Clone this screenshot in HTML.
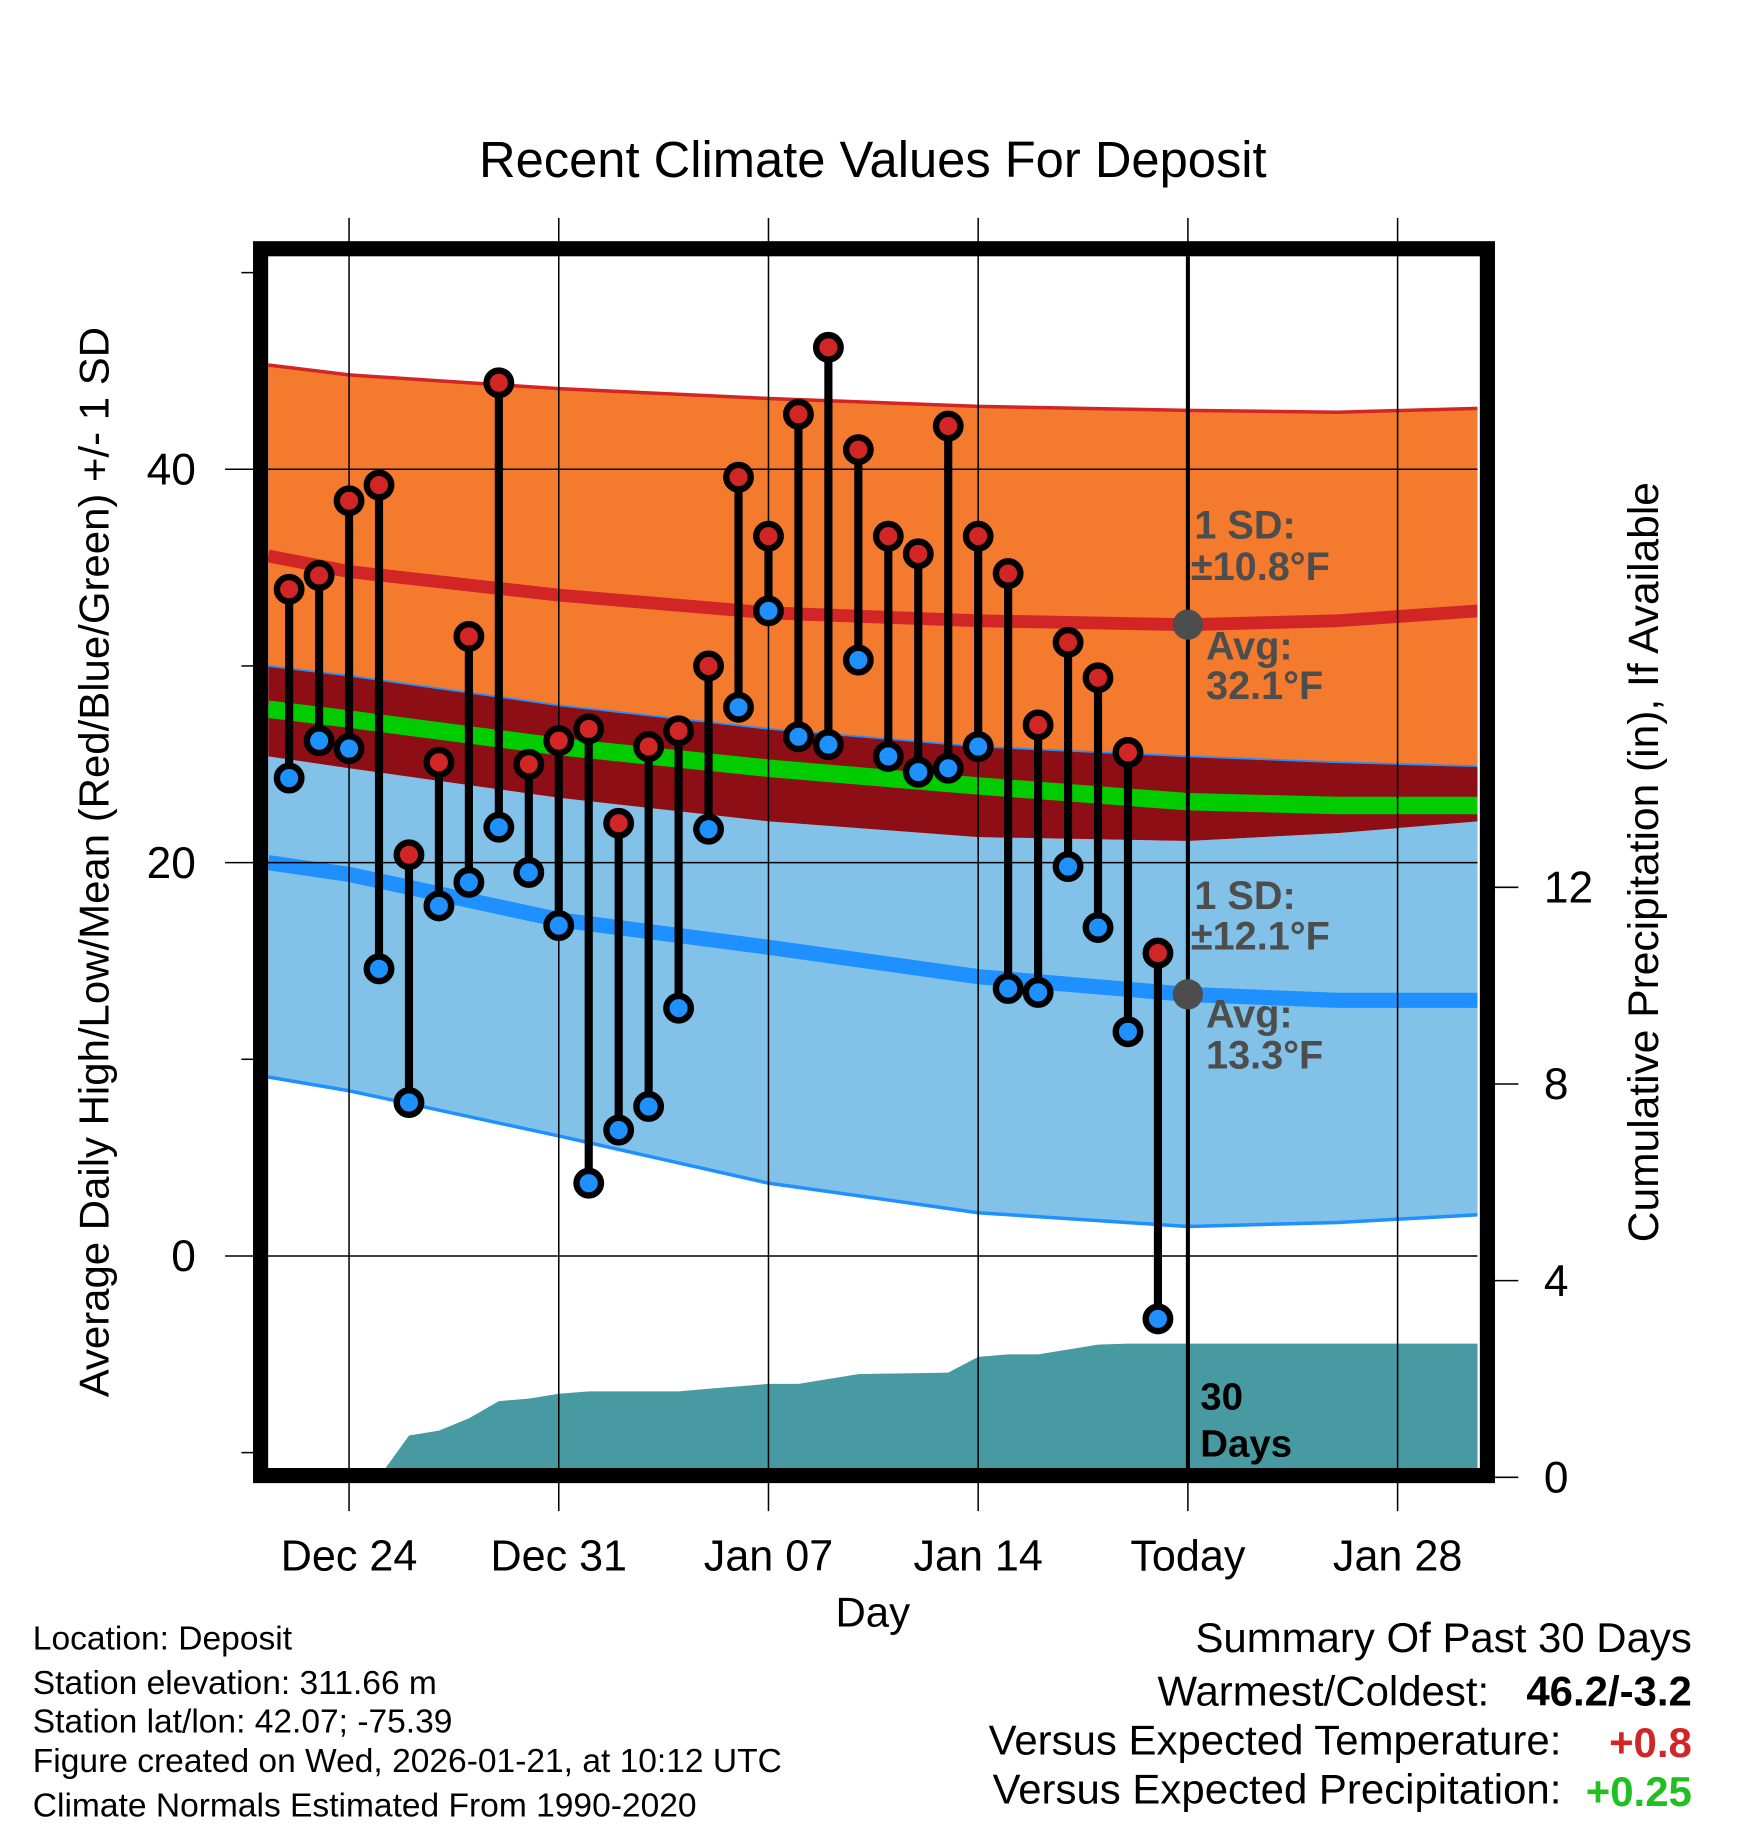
<!DOCTYPE html>
<html><head><meta charset="utf-8"><style>
html,body{margin:0;padding:0;background:#fff;}
svg{display:block;font-family:"Liberation Sans",sans-serif;}
</style></head><body>
<svg id="chart" width="1748" height="1828" viewBox="0 0 1500 1569" xmlns="http://www.w3.org/2000/svg">
<defs><clipPath id="plotclip"><rect x="230" y="220" width="1038" height="1040"/></clipPath></defs>
<g id="bands" clip-path="url(#plotclip)"></g>
<g id="grid"></g>
<g id="marks" clip-path="url(#plotclip)"></g>
<g id="labels"></g>
</svg>
<script>
// ---- data ----
const normDays = [-0.7, 2, 9, 16, 23, 30, 35, 39.7];
const hiTop   = [45.3, 44.8, 44.1, 43.6, 43.2, 43.0, 42.9, 43.1];
const hiMean  = [35.6, 34.8, 33.6, 32.7, 32.3, 32.1, 32.3, 32.8];
const hiBot   = [30.0, 29.5, 28.0, 26.8, 25.9, 25.4, 25.1, 24.9];
const meanT   = [27.8, 27.3, 25.9, 24.8, 23.9, 23.1, 22.9, 22.9];
const loTop   = [25.4, 24.8, 23.3, 22.1, 21.3, 21.1, 21.5, 22.1];
const loMean  = [20.0, 19.4, 17.1, 15.7, 14.2, 13.3, 13.0, 13.0];
const loBot   = [9.1, 8.4, 6.1, 3.7, 2.2, 1.5, 1.7, 2.1];
const highs = [33.9,34.6,38.4,39.2,20.4,25.1,31.5,44.4,25.0,26.2,26.8,22.0,25.9,26.7,30.0,39.6,36.6,42.8,46.2,41.0,36.6,35.7,42.2,36.6,34.7,27.0,31.2,29.4,25.6,15.4];
const lows  = [24.3,26.2,25.8,14.6,7.8,17.8,19.0,21.8,19.5,16.8,3.7,6.4,7.6,12.6,21.7,27.9,32.8,26.4,26.0,30.3,25.4,24.6,24.8,25.9,13.6,13.4,19.8,16.7,11.4,-3.2];
const precipDays = [3,4,5,6,7,8,9,10,13,14,15,16,17,18,19,22,23,24,25,26,27,28,29,40];
const precip     = [0,0.85,0.95,1.2,1.55,1.6,1.7,1.75,1.75,1.8,1.85,1.9,1.9,2.0,2.1,2.13,2.45,2.5,2.5,2.6,2.7,2.72,2.72,2.72];
const xTickDays = [2,9,16,23,30,37];
const xTickLabels = ["Dec 24","Dec 31","Jan 07","Jan 14","Today","Jan 28"];
const yTicks = [0,20,40];
const yMinor = [-10,10,30,50];
const pTicks = [0,4,8,12];
// ---- axes ----
const X = d => 248 + d*25.714;
const Y = v => 1078 - v*16.88;
const P = p => 1268 - p*42.2;
const NS="http://www.w3.org/2000/svg";
function mk(tag, attrs, parent){const e=document.createElementNS(NS,tag);for(const k in attrs)e.setAttribute(k,attrs[k]);parent.appendChild(e);return e;}
const bands=document.getElementById('bands'),grid=document.getElementById('grid'),marks=document.getElementById('marks'),labels=document.getElementById('labels');
function line(arr){return normDays.map((d,i)=>X(d).toFixed(1)+','+Y(arr[i]).toFixed(1));}
function area(top,bot){return line(top).concat(line(bot).reverse()).join(' ');}
let e;
e=mk('polygon',{points:area(hiTop,hiBot),fill:'#f47a2e'},bands);

e=mk('polygon',{points:area(loTop,loBot),fill:'#82c1e8'},bands);

e=mk('polygon',{points:area(hiBot,loTop),fill:'#8e0e15'},bands);

const lines=[[hiTop,'#d22525',3,'high-upper-line'],[hiBot,'#1e90ff',1.5,'high-lower-line'],[loBot,'#1e90ff',3,'low-lower-line'],[hiMean,'#d22525',11,'mean-high-line'],[meanT,'#00cc00',15,'mean-temp-line'],[loMean,'#1e90ff',13,'mean-low-line']];
lines.forEach(l=>{
 e=mk('polyline',{points:line(l[0]).join(' '),fill:'none',stroke:l[1],'stroke-width':l[2],'stroke-linejoin':'round'},bands);
 
});
// precip area
let pts=[X(precipDays[0])+','+P(0)];
precipDays.forEach((d,i)=>pts.push(X(d).toFixed(1)+','+P(precip[i]).toFixed(1)));
pts.push(X(precipDays[precipDays.length-1])+','+P(-1));pts.push(X(precipDays[0])+','+P(-1));
e=mk('polygon',{points:pts.join(' '),fill:'#4799a2'},bands);

// grid
xTickDays.forEach((d,i)=>{
 e=mk('line',{x1:X(d),x2:X(d),y1:187,y2:1297,stroke:'#000','stroke-width':1.3},grid);
 
 e=mk('text',{x:X(d),y:1348,'font-size':37,'text-anchor':'middle'},labels);e.textContent=xTickLabels[i];
 
});
yTicks.forEach(v=>{
 e=mk('line',{x1:193,x2:1268,y1:Y(v),y2:Y(v),stroke:'#000','stroke-width':1.3},grid);
 
 e=mk('text',{x:168,y:Y(v)+13,'font-size':38,'text-anchor':'end'},labels);e.textContent=v;
 
});
yMinor.forEach(v=>{
 e=mk('line',{x1:207,x2:217,y1:Y(v),y2:Y(v),stroke:'#000','stroke-width':1.3},grid);
 
});
pTicks.forEach(p=>{
 e=mk('line',{x1:1283,x2:1303,y1:P(p),y2:P(p),stroke:'#000','stroke-width':1.3},grid);
 
 e=mk('text',{x:1325,y:P(p)+13,'font-size':38},labels);e.textContent=p;
 
});
// today line
e=mk('line',{x1:X(30),x2:X(30),y1:220,y2:1260,stroke:'#000','stroke-width':3.5},marks);

// annotations
const ann=[['1 SD:',1025,462],['±10.8°F',1022,498],['Avg:',1035,566],['32.1°F',1035,600],['1 SD:',1025,780],['±12.1°F',1022,815],['Avg:',1035,882],['13.3°F',1035,917]];
ann.forEach(a=>{e=mk('text',{x:a[1],y:a[2],'font-size':34,'font-weight':'bold',fill:'#4d4d4d'},marks);e.textContent=a[0];
 });
[[30,hiMean[5]],[30,loMean[5]]].forEach(p=>{e=mk('circle',{cx:X(p[0]),cy:Y(p[1]),r:13,fill:'#4d4d4d'},marks);
 });
[['30',1030,1210],['Days',1030,1250]].forEach(a=>{e=mk('text',{x:a[1],y:a[2],'font-size':33,'font-weight':'bold'},marks);e.textContent=a[0];
 });
// daily marks
highs.forEach((h,i)=>{
 const x=X(i);
 e=mk('line',{x1:x,x2:x,y1:Y(h),y2:Y(lows[i]),stroke:'#000','stroke-width':7},marks);
 
 e=mk('circle',{cx:x,cy:Y(h),r:10.5,fill:'#d22525',stroke:'#000','stroke-width':5.5},marks);
 
 e=mk('circle',{cx:x,cy:Y(lows[i]),r:10.5,fill:'#1e90ff',stroke:'#000','stroke-width':5.5},marks);
 
});
// frame
e=mk('rect',{x:223.5,y:213.5,width:1053,height:1053,fill:'none',stroke:'#000','stroke-width':13},labels);

function txt(s,attrs,name){const t=mk('text',attrs,labels);t.textContent=s;return t;}
txt('Recent Climate Values For Deposit',{x:749,y:152,'font-size':43.5,'text-anchor':'middle'},'chart-title');
txt('Average Daily High/Low/Mean (Red/Blue/Green) +/- 1 SD',{x:0,y:0,'font-size':36,'text-anchor':'middle',transform:'translate(93,740) rotate(-90)'},'y-axis-title');
txt('Cumulative Precipitation (in), If Available',{x:0,y:0,'font-size':36.5,'text-anchor':'middle',transform:'translate(1423,740) rotate(-90)'},'right-axis-title');
txt('Day',{x:749,y:1396,'font-size':36,'text-anchor':'middle'},'x-axis-title');
const info=['Location: Deposit','Station elevation: 311.66 m','Station lat/lon: 42.07; -75.39','Figure created on Wed, 2026-01-21, at 10:12 UTC','Climate Normals Estimated From 1990-2020'];
const infoY=[1416,1454,1487,1521,1559];
info.forEach((s,i)=>txt(s,{x:28,y:infoY[i],'font-size':28.8},'station-info'));
txt('Summary Of Past 30 Days',{x:1452,y:1418,'font-size':36,'text-anchor':'end'},'summary-title');
txt('Warmest/Coldest:',{x:1278,y:1464,'font-size':36,'text-anchor':'end'},'summary-label');
txt('46.2/-3.2',{x:1452,y:1464,'font-size':36,'text-anchor':'end','font-weight':'bold'},'summary-value');
txt('Versus Expected Temperature:',{x:1340,y:1506,'font-size':36,'text-anchor':'end'},'summary-label');
txt('+0.8',{x:1452,y:1508,'font-size':36,'text-anchor':'end','font-weight':'bold',fill:'#d22525'},'summary-temp-value');
txt('Versus Expected Precipitation:',{x:1340,y:1548,'font-size':36,'text-anchor':'end'},'summary-label');
txt('+0.25',{x:1452,y:1550,'font-size':36,'text-anchor':'end','font-weight':'bold',fill:'#1fc01f'},'summary-precip-value');
</script>
</body></html>
